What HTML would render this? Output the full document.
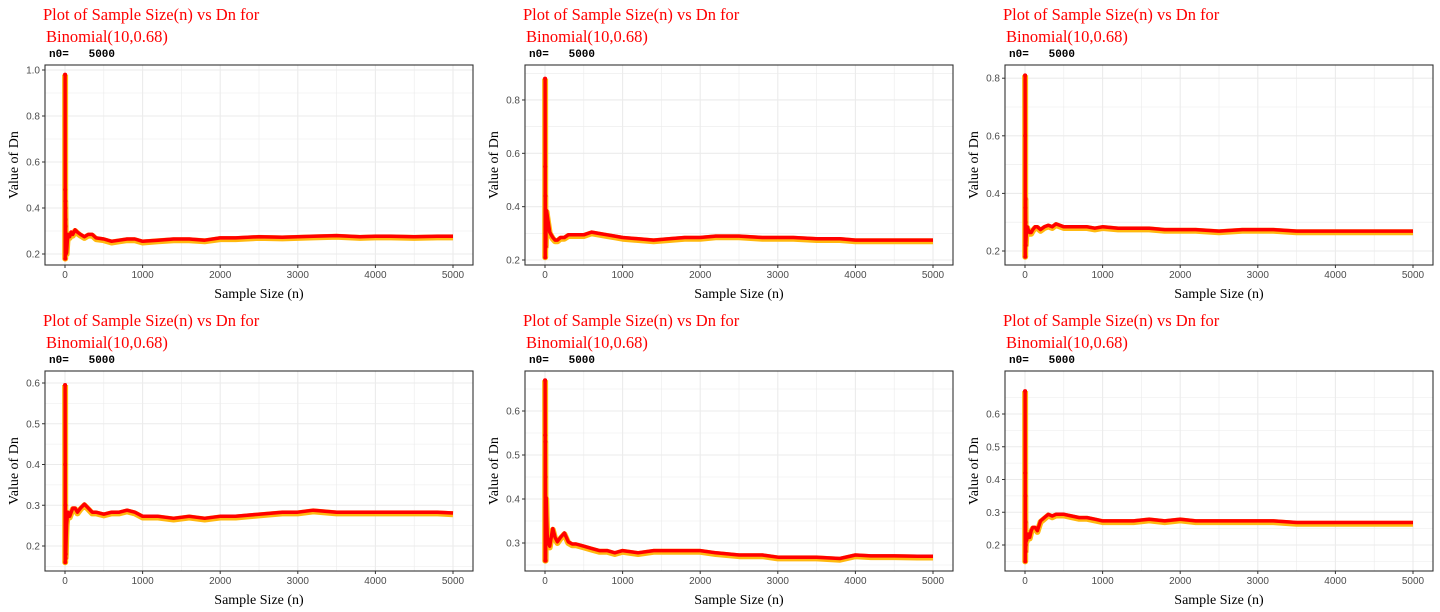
<!DOCTYPE html>
<html><head><meta charset="utf-8">
<style>
html,body{margin:0;padding:0;background:#fff;}
svg{display:block;}
.title{font-family:"Liberation Serif",serif;font-size:16.5px;fill:#ff0000;}
.sub{font-family:"Liberation Mono",monospace;font-size:11px;font-weight:bold;fill:#000;white-space:pre;}
.tick{font-family:"Liberation Sans",sans-serif;font-size:10px;fill:#4d4d4d;}
.axt{font-family:"Liberation Serif",serif;font-size:14px;fill:#000;}
</style></head>
<body>
<svg id="chart" width="1440" height="612" viewBox="0 0 1440 612" xmlns="http://www.w3.org/2000/svg"></svg>
<script>
const sampleSizes=[1,2,3,4,5,6,8,10,15,20,30,40,60,80,100,130,160,200,250,300,350,400,500,600,700,800,900,1000,1200,1400,1600,1800,2000,2200,2500,2800,3000,3200,3500,3800,4000,4200,4500,4800,5000];
const dn1=[0.98,0.48,0.18,0.43,0.40,0.35,0.32,0.20,0.22,0.20,0.25,0.28,0.27,0.29,0.28,0.30,0.29,0.28,0.27,0.28,0.28,0.265,0.26,0.25,0.255,0.26,0.26,0.25,0.255,0.26,0.26,0.255,0.265,0.265,0.27,0.268,0.27,0.272,0.275,0.27,0.272,0.272,0.27,0.272,0.272];
const dn2=[0.88,0.55,0.21,0.44,0.30,0.38,0.32,0.25,0.35,0.38,0.36,0.34,0.30,0.29,0.28,0.27,0.27,0.28,0.28,0.29,0.29,0.29,0.29,0.30,0.295,0.29,0.285,0.28,0.275,0.27,0.275,0.28,0.28,0.285,0.285,0.28,0.28,0.28,0.275,0.275,0.27,0.27,0.27,0.27,0.27];
const dn3=[0.81,0.60,0.18,0.35,0.22,0.38,0.30,0.22,0.25,0.26,0.28,0.27,0.26,0.26,0.27,0.28,0.28,0.27,0.28,0.285,0.28,0.29,0.28,0.28,0.28,0.28,0.275,0.28,0.275,0.275,0.275,0.27,0.27,0.27,0.265,0.27,0.27,0.27,0.265,0.265,0.265,0.265,0.265,0.265,0.265];
const dn4=[0.595,0.40,0.16,0.30,0.20,0.25,0.17,0.18,0.22,0.25,0.27,0.28,0.27,0.28,0.29,0.29,0.28,0.29,0.30,0.29,0.28,0.28,0.275,0.28,0.28,0.285,0.28,0.27,0.27,0.265,0.27,0.265,0.27,0.27,0.275,0.28,0.28,0.285,0.28,0.28,0.28,0.28,0.28,0.28,0.278];
const dn5=[0.67,0.545,0.26,0.53,0.45,0.38,0.26,0.33,0.40,0.36,0.31,0.30,0.29,0.31,0.33,0.31,0.30,0.31,0.32,0.30,0.295,0.295,0.29,0.285,0.28,0.28,0.275,0.28,0.275,0.28,0.28,0.28,0.28,0.275,0.27,0.27,0.265,0.265,0.265,0.262,0.27,0.268,0.268,0.267,0.267];
const dn6=[0.67,0.42,0.15,0.35,0.20,0.27,0.18,0.20,0.22,0.21,0.22,0.23,0.22,0.24,0.25,0.25,0.24,0.27,0.28,0.29,0.285,0.29,0.29,0.285,0.28,0.28,0.275,0.27,0.27,0.27,0.275,0.27,0.275,0.27,0.27,0.27,0.27,0.27,0.265,0.265,0.265,0.265,0.265,0.265,0.265];
const xTicks=[0,1000,2000,3000,4000,5000];
const yTicks1=[0.2,0.4,0.6,0.8,1.0];
const yTicks2=[0.2,0.4,0.6,0.8];
const yTicks3=[0.2,0.4,0.6,0.8];
const yTicks4=[0.2,0.3,0.4,0.5,0.6];
const yTicks5=[0.3,0.4,0.5,0.6];
const yTicks6=[0.2,0.3,0.4,0.5,0.6];

const NS="http://www.w3.org/2000/svg";
const svg=document.getElementById('chart');
function mk(tag,attrs,parent){const e=document.createElementNS(NS,tag);for(const k in attrs)e.setAttribute(k,attrs[k]);parent.appendChild(e);return e;}
const panels=[
 {ox:0,oy:0,data:dn1,ticks:yTicks1,ref:[0.2,254,230]},
 {ox:480,oy:0,data:dn2,ticks:yTicks2,ref:[0.2,260,266.7]},
 {ox:960,oy:0,data:dn3,ticks:yTicks3,ref:[0.2,251,288]},
 {ox:0,oy:306,data:dn4,ticks:yTicks4,ref:[0.2,240,407.5]},
 {ox:480,oy:306,data:dn5,ticks:yTicks5,ref:[0.3,237,440]},
 {ox:960,oy:306,data:dn6,ticks:yTicks6,ref:[0.2,239,327.5]}
];
const L=45,R=473,T=65,B=265;
function xs(n){return 65+n*(453-65)/5000;}
panels.forEach((p,i)=>{
  const g=mk('g',{transform:`translate(${p.ox},${p.oy})`},svg);
  
  
  const ys=v=>p.ref[1]-(v-p.ref[0])*p.ref[2];
  const t1=mk('text',{x:43,y:20,class:'title'},g);t1.textContent='Plot of Sample Size(n) vs Dn for';
  
  
  const t2=mk('text',{x:46,y:42,class:'title'},g);t2.textContent='Binomial(10,0.68)';
  
  
  const st=mk('text',{x:49,y:57,class:'sub'},g);st.textContent='n0=   5000';
  
  
  const clip=mk('clipPath',{id:'c'+i},g);mk('rect',{x:L,y:T,width:R-L,height:B-T},clip);
  const grid=mk('g',{stroke:'#ebebeb'},g);
  
  
  [500,1500,2500,3500,4500].forEach(v=>{const x=xs(v);mk('line',{x1:x,x2:x,y1:T,y2:B,'stroke-width':0.6},grid);});
  const step=p.ticks[1]-p.ticks[0];
  for(let k=-1;k<p.ticks.length;k++){const v=p.ticks[0]+(k+0.5)*step;const y=ys(v);if(y>T&&y<B)mk('line',{x1:L,x2:R,y1:y,y2:y,'stroke-width':0.6},grid);}
  xTicks.forEach(v=>{const x=xs(v);mk('line',{x1:x,x2:x,y1:T,y2:B,'stroke-width':1.1},grid);
    mk('line',{x1:x,x2:x,y1:B,y2:B+3,stroke:'#333'},g);
    const tt=mk('text',{x:x,y:B+13,class:'tick','text-anchor':'middle'},g);tt.textContent=v;
    
    });
  p.ticks.forEach(v=>{const y=ys(v);mk('line',{x1:L,x2:R,y1:y,y2:y,'stroke-width':1.1},grid);
    mk('line',{x1:L-3,x2:L,y1:y,y2:y,stroke:'#333'},g);
    const tt=mk('text',{x:L-5,y:y+3.5,class:'tick','text-anchor':'end'},g);tt.textContent=v.toFixed(1);
    
    });
  const pts=p.data.map((v,j)=>[xs(sampleSizes[j]),ys(v)]);
  const d=pts.map(q=>q[0].toFixed(1)+','+q[1].toFixed(1)).join(' ');
  const dg=mk('g',{'clip-path':`url(#c${i})`},g);
  const ol=mk('polyline',{points:d,fill:'none',stroke:'#ffb90f','stroke-width':6,'stroke-linejoin':'round'},dg);
  
  
  const rl=mk('polyline',{points:pts.map(q=>q[0].toFixed(1)+','+(q[1]-1.2).toFixed(1)).join(' '),fill:'none',stroke:'#ff0000','stroke-width':3.5,'stroke-linejoin':'round'},dg);
  
  
  pts.slice(0,8).forEach(q=>{const c=mk('circle',{cx:q[0],cy:q[1],r:2,fill:'#ff0000'},dg);
    
    });
  const box=mk('rect',{x:L,y:T,width:R-L,height:B-T,fill:'none',stroke:'#333','stroke-width':1.1},g);
  
  
  const xt=mk('text',{x:(L+R)/2,y:298,class:'axt','text-anchor':'middle'},g);xt.textContent='Sample Size (n)';
  
  
  const yt=mk('text',{x:0,y:0,class:'axt','text-anchor':'middle',transform:`translate(18,${(T+B)/2}) rotate(-90)`},g);yt.textContent='Value of Dn';
  
  
});
</script>
</body></html>
